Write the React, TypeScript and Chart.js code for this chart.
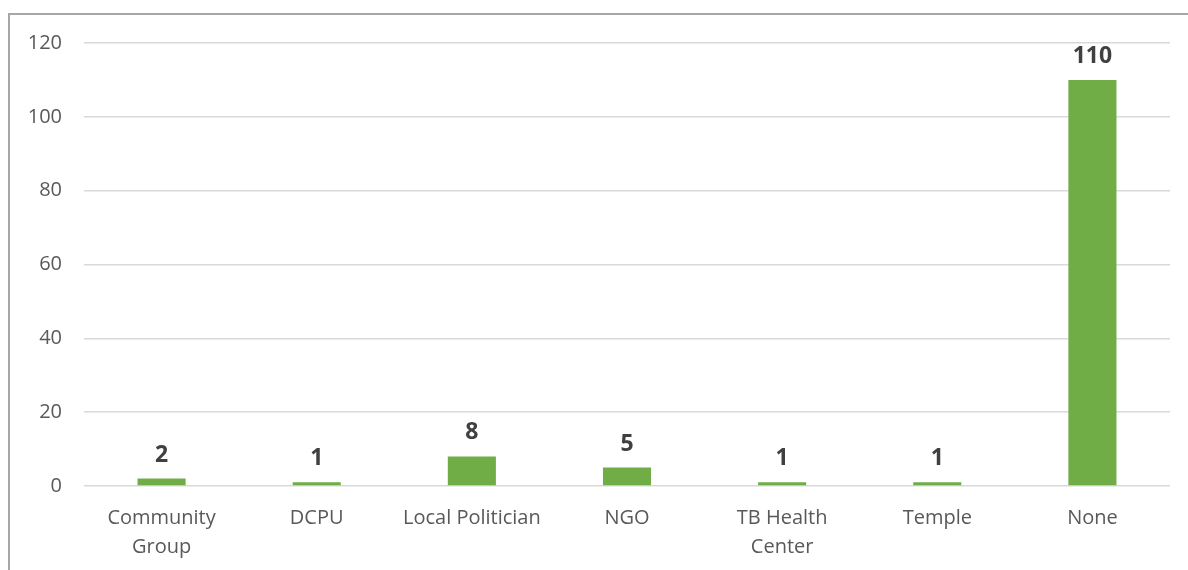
import React, { useEffect, useRef } from "react";
import { Chart, registerables } from "chart.js";

Chart.register(...registerables);

const categories: (string | string[])[] = [
  ["Community", "Group"],
  "DCPU",
  "Local Politician",
  "NGO",
  ["TB Health", "Center"],
  "Temple",
  "None",
];
const counts: number[] = [2, 1, 8, 5, 1, 1, 110];
const yTicks: number[] = [0, 20, 40, 60, 80, 100, 120];

const FONT = "'Open Sans', 'Liberation Sans', sans-serif";

const valueLabels = {
  id: "valueLabels",
  afterDatasetsDraw(chart: any) {
    const ctx = chart.ctx;
    const meta = chart.getDatasetMeta(0);
    ctx.save();
    ctx.font = `bold 23px ${FONT}`;
    ctx.fillStyle = "#404040";
    ctx.textAlign = "center";
    ctx.textBaseline = "alphabetic";
    meta.data.forEach((el: any, i: number) => {
      ctx.fillText(String(counts[i]), el.x, el.y - 17);
    });
    ctx.restore();
  },
};

export default function App() {
  const ref = useRef<HTMLCanvasElement | null>(null);
  useEffect(() => {
    if (!ref.current) return;
    const chart = new Chart(ref.current, {
      type: "bar",
      data: {
        labels: categories,
        datasets: [
          {
            data: counts,
            backgroundColor: "#70AD47",
            borderWidth: 0,
            categoryPercentage: 1,
            barPercentage: 0.31,
          },
        ],
      },
      options: {
        animation: false,
        responsive: false,
        maintainAspectRatio: false,
        layout: { padding: { left: 0, right: 18, top: 43, bottom: 0 } },
        plugins: {
          legend: { display: false },
          tooltip: { enabled: false },
        },
        scales: {
          x: {
            grid: { display: false, drawTicks: false },
            border: { display: false },
            ticks: {
              color: "#595959",
              font: { family: FONT, size: 20, lineHeight: 1.45 },
              padding: 18,
              maxRotation: 0,
              autoSkip: false,
            },
            afterFit: (s: any) => {
              s.height = 84;
            },
          },
          y: {
            min: 0,
            max: 120,
            afterBuildTicks: (s: any) => {
              s.ticks = yTicks.map((v) => ({ value: v }));
            },
            grid: { color: "#d9d9d9", lineWidth: 1.5, drawTicks: false },
            border: { display: false },
            ticks: {
              color: "#595959",
              font: { family: FONT, size: 20 },
              padding: 22,
            },
            afterFit: (s: any) => {
              s.width = 84;
            },
          },
        },
      },
      plugins: [valueLabels],
    });
    return () => chart.destroy();
  }, []);

  return (
    <div style={{ position: "fixed", left: 0, top: 0, width: 1188, height: 570, overflow: "hidden", background: "#fff" }}>
      <div
        style={{
          position: "absolute",
          left: 8,
          top: 13,
          width: 1300,
          height: 700,
          borderTop: "2px solid #a6a6a6",
          borderLeft: "2px solid #a6a6a6",
          boxSizing: "border-box",
        }}
      />
      <canvas ref={ref} width={1188} height={570} style={{ position: "absolute", left: 0, top: 0 }} />
    </div>
  );
}
